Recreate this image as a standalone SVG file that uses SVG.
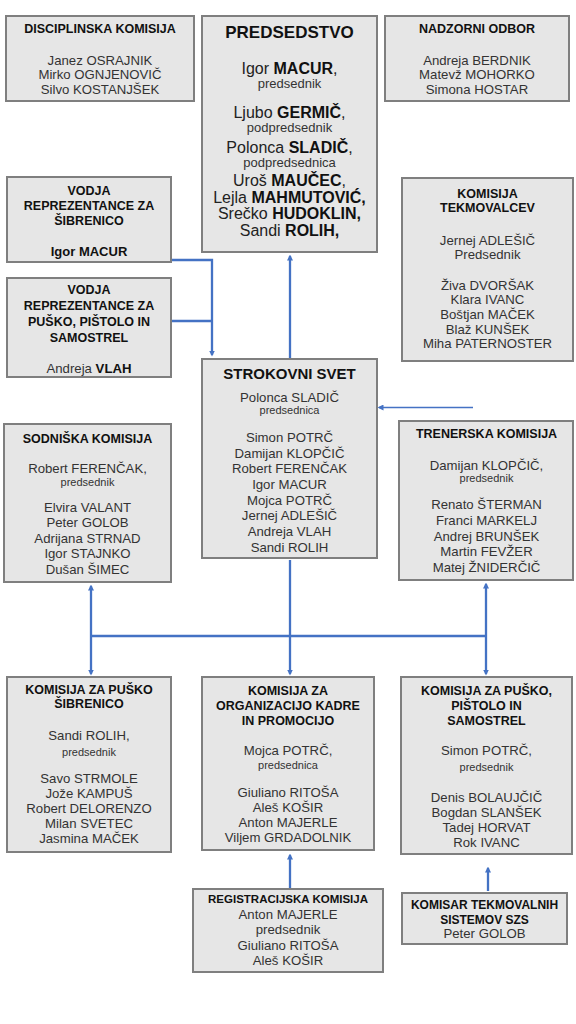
<svg xmlns="http://www.w3.org/2000/svg" width="576" height="1024" viewBox="0 0 576 1024">
<style>
.bg{fill:#ffffff}
.box{fill:#e6e6e6;stroke:#7f7f7f;stroke-width:2}
text{font-family:"Liberation Sans",Arial,sans-serif;text-anchor:middle}
.h{font-weight:bold;font-size:12.5px;fill:#111}
.n{font-size:13.2px;fill:#333}
.s{font-size:11px;fill:#333}
.b{font-weight:bold;fill:#111}
.pn{font-size:16px;fill:#222}
.ps{font-size:13px;fill:#333}
.pt{font-weight:bold;font-size:17px;fill:#111}
.st{font-weight:bold;font-size:15px;fill:#111}
.con{fill:none;stroke:#4472c4;stroke-width:2.3}
.thin{fill:none;stroke:#4472c4;stroke-width:1.5}
</style>
<defs>
<marker id="ah" markerUnits="userSpaceOnUse" markerWidth="6" markerHeight="6" refX="4.5" refY="3" orient="auto">
<path d="M0,0 L6,3 L0,6 z" fill="#4472c4"/>
</marker>
</defs>
<rect class="bg" x="0" y="0" width="576" height="1024"/>

<g id="connectors">
<path class="con" d="M171,260 H212 V355" marker-end="url(#ah)"/>
<path class="con" d="M171,321 H212"/>
<path class="con" d="M290,358 V256" marker-end="url(#ah)"/>
<path class="thin" d="M473,407.5 H379" marker-end="url(#ah)"/>
<path class="con" d="M91,636 H486"/>
<path class="con" d="M91,636 V586" marker-end="url(#ah)"/>
<path class="con" d="M91,636 V674" marker-end="url(#ah)"/>
<path class="con" d="M290,560 V674" marker-end="url(#ah)"/>
<path class="con" d="M486,636 V584" marker-end="url(#ah)"/>
<path class="con" d="M486,636 V674" marker-end="url(#ah)"/>
<path class="con" d="M290,888 V855" marker-end="url(#ah)"/>
<path class="con" d="M488,891 V868" marker-end="url(#ah)"/>
</g>

<g id="disciplinska">
<rect class="box" x="6" y="16" width="188" height="85"/>
<text class="h" x="100" y="32.5">DISCIPLINSKA KOMISIJA</text>
<text class="n" x="100" y="64.5">Janez OSRAJNIK</text>
<text class="n" x="100" y="79">Mirko OGNJENOVIČ</text>
<text class="n" x="100" y="93.5">Silvo KOSTANJŠEK</text>
</g>

<g id="predsedstvo">
<rect class="box" x="202" y="16" width="175" height="236"/>
<text class="pt" x="289.5" y="38">PREDSEDSTVO</text>
<text class="pn" x="289.5" y="74">Igor <tspan class="b">MACUR</tspan>,</text>
<text class="ps" x="289.5" y="87.5">predsednik</text>
<text class="pn" x="289.5" y="118">Ljubo <tspan class="b">GERMIČ</tspan>,</text>
<text class="ps" x="289.5" y="132">podpredsednik</text>
<text class="pn" x="289.5" y="152.5">Polonca <tspan class="b">SLADIČ</tspan>,</text>
<text class="ps" x="289.5" y="167">podpredsednica</text>
<text class="pn" x="289.5" y="186">Uroš <tspan class="b">MAUČEC</tspan>,</text>
<text class="pn" x="289.5" y="202.5">Lejla <tspan class="b">MAHMUTOVIĆ,</tspan></text>
<text class="pn" x="289.5" y="219">Srečko <tspan class="b">HUDOKLIN,</tspan></text>
<text class="pn" x="289.5" y="236">Sandi <tspan class="b">ROLIH,</tspan></text>
</g>

<g id="nadzorni">
<rect class="box" x="385" y="16" width="184" height="85"/>
<text class="h" x="477" y="32.5">NADZORNI ODBOR</text>
<text class="n" x="477" y="64.5">Andreja BERDNIK</text>
<text class="n" x="477" y="79">Matevž MOHORKO</text>
<text class="n" x="477" y="93.5">Simona HOSTAR</text>
</g>

<g id="vodja-sibrenica">
<rect class="box" x="7" y="177" width="164" height="85"/>
<text class="h" x="89" y="194.5">VODJA</text>
<text class="h" x="89" y="209.5">REPREZENTANCE ZA</text>
<text class="h" x="89" y="224.5">ŠIBRENICO</text>
<text class="h" x="89" y="255.5" style="font-size:13px">Igor MACUR</text>
</g>

<g id="vodja-puska">
<rect class="box" x="7" y="278" width="164" height="99"/>
<text class="h" x="89" y="293.5">VODJA</text>
<text class="h" x="89" y="309.5">REPREZENTANCE ZA</text>
<text class="h" x="89" y="325.5">PUŠKO, PIŠTOLO IN</text>
<text class="h" x="89" y="341.5">SAMOSTREL</text>
<text class="n" x="89" y="372.5">Andreja <tspan class="b">VLAH</tspan></text>
</g>

<g id="tekmovalci">
<rect class="box" x="402" y="178" width="171" height="183"/>
<text class="h" x="487.5" y="197.5">KOMISIJA</text>
<text class="h" x="487.5" y="211.5">TEKMOVALCEV</text>
<text class="n" x="487.5" y="244.5">Jernej ADLEŠIČ</text>
<text class="n" x="487.5" y="258.5">Predsednik</text>
<text class="n" x="487.5" y="289.5">Živa DVORŠAK</text>
<text class="n" x="487.5" y="304">Klara IVANC</text>
<text class="n" x="487.5" y="319">Boštjan MAČEK</text>
<text class="n" x="487.5" y="333.5">Blaž KUNŠEK</text>
<text class="n" x="487.5" y="348">Miha PATERNOSTER</text>
</g>

<g id="strokovni-svet">
<rect class="box" x="202" y="359" width="175" height="199"/>
<text class="st" x="289.5" y="378.5">STROKOVNI SVET</text>
<text class="n" x="289.5" y="401.5">Polonca SLADIČ</text>
<text class="s" x="289.5" y="414">predsednica</text>
<text class="n" x="289.5" y="441.5">Simon POTRČ</text>
<text class="n" x="289.5" y="457.5">Damijan KLOPČIČ</text>
<text class="n" x="289.5" y="472.5">Robert FERENČAK</text>
<text class="n" x="289.5" y="488.5">Igor MACUR</text>
<text class="n" x="289.5" y="504.5">Mojca POTRČ</text>
<text class="n" x="289.5" y="520">Jernej ADLEŠIČ</text>
<text class="n" x="289.5" y="535.5">Andreja VLAH</text>
<text class="n" x="289.5" y="551.5">Sandi ROLIH</text>
</g>

<g id="sodniska">
<rect class="box" x="4" y="424" width="167" height="158"/>
<text class="h" x="87.5" y="442.5">SODNIŠKA KOMISIJA</text>
<text class="n" x="87.5" y="472.5">Robert FERENČAK,</text>
<text class="s" x="87.5" y="486">predsednik</text>
<text class="n" x="87.5" y="511.5">Elvira VALANT</text>
<text class="n" x="87.5" y="526.5">Peter GOLOB</text>
<text class="n" x="87.5" y="542.5">Adrijana STRNAD</text>
<text class="n" x="87.5" y="557.5">Igor STAJNKO</text>
<text class="n" x="87.5" y="573.5">Dušan ŠIMEC</text>
</g>

<g id="trenerska">
<rect class="box" x="399" y="421" width="174" height="159"/>
<text class="h" x="486.5" y="437.5">TRENERSKA KOMISIJA</text>
<text class="n" x="486.5" y="469.5">Damijan KLOPČIČ,</text>
<text class="s" x="486.5" y="482">predsednik</text>
<text class="n" x="486.5" y="508.5">Renato ŠTERMAN</text>
<text class="n" x="486.5" y="524.5">Franci MARKELJ</text>
<text class="n" x="486.5" y="540.5">Andrej BRUNŠEK</text>
<text class="n" x="486.5" y="555.5">Martin FEVŽER</text>
<text class="n" x="486.5" y="571.5">Matej ŽNIDERČIČ</text>
</g>

<g id="puska-sibrenica">
<rect class="box" x="7" y="677" width="164" height="175"/>
<text class="h" x="89" y="693.5">KOMISIJA ZA PUŠKO</text>
<text class="h" x="89" y="707.5">ŠIBRENICO</text>
<text class="n" x="89" y="739.5">Sandi ROLIH,</text>
<text class="s" x="89" y="756">predsednik</text>
<text class="n" x="89" y="782.5">Savo STRMOLE</text>
<text class="n" x="89" y="797.5">Jože KAMPUŠ</text>
<text class="n" x="89" y="812.5">Robert DELORENZO</text>
<text class="n" x="89" y="827.5">Milan SVETEC</text>
<text class="n" x="89" y="842.5">Jasmina MAČEK</text>
</g>

<g id="organizacija">
<rect class="box" x="202" y="677" width="172" height="173"/>
<text class="h" x="288" y="694.5">KOMISIJA ZA</text>
<text class="h" x="288" y="709.5">ORGANIZACIJO KADRE</text>
<text class="h" x="288" y="724.5">IN PROMOCIJO</text>
<text class="n" x="288" y="754.5">Mojca POTRČ,</text>
<text class="s" x="288" y="769">predsednica</text>
<text class="n" x="288" y="796.5">Giuliano RITOŠA</text>
<text class="n" x="288" y="811.5">Aleš KOŠIR</text>
<text class="n" x="288" y="826.5">Anton MAJERLE</text>
<text class="n" x="288" y="841.5">Viljem GRDADOLNIK</text>
</g>

<g id="puska-pistolo">
<rect class="box" x="401" y="677" width="171" height="177"/>
<text class="h" x="486.5" y="694.5">KOMISIJA ZA PUŠKO,</text>
<text class="h" x="486.5" y="709.5">PIŠTOLO IN</text>
<text class="h" x="486.5" y="724.5">SAMOSTREL</text>
<text class="n" x="486.5" y="754.5">Simon POTRČ,</text>
<text class="s" x="486.5" y="771">predsednik</text>
<text class="n" x="486.5" y="801.5">Denis BOLAUJČIČ</text>
<text class="n" x="486.5" y="816.5">Bogdan SLANŠEK</text>
<text class="n" x="486.5" y="831.5">Tadej HORVAT</text>
<text class="n" x="486.5" y="846.5">Rok IVANC</text>
</g>

<g id="registracijska">
<rect class="box" x="193" y="889" width="190" height="83"/>
<text class="h" x="288" y="903" style="font-size:11.5px">REGISTRACIJSKA KOMISIJA</text>
<text class="n" x="288" y="918.5">Anton MAJERLE</text>
<text class="n" x="288" y="933.5">predsednik</text>
<text class="n" x="288" y="949.5">Giuliano RITOŠA</text>
<text class="n" x="288" y="964.5">Aleš KOŠIR</text>
</g>

<g id="komisar">
<rect class="box" x="402" y="893" width="165" height="51"/>
<text class="h" x="484.5" y="909" style="font-size:12px">KOMISAR TEKMOVALNIH</text>
<text class="h" x="484.5" y="923.5" style="font-size:12px">SISTEMOV SZS</text>
<text class="n" x="484.5" y="937.5">Peter GOLOB</text>
</g>
</svg>
